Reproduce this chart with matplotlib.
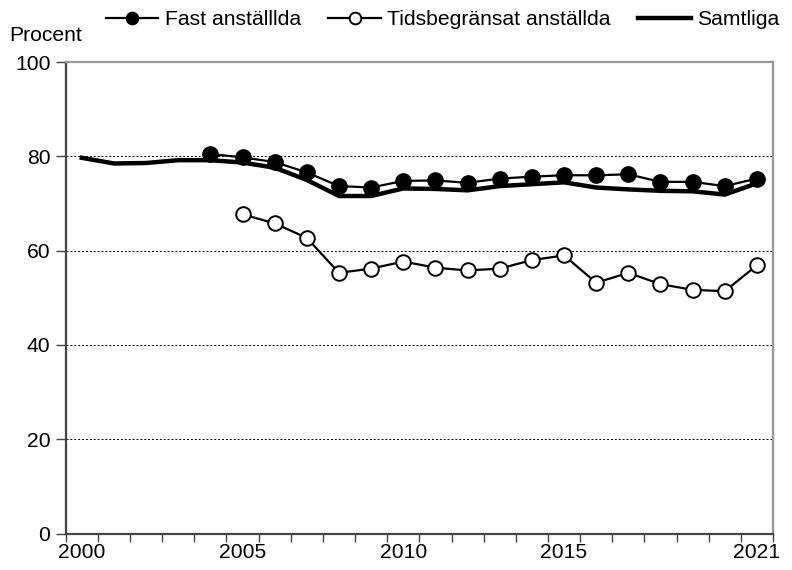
import matplotlib
matplotlib.use("Agg")
import matplotlib.pyplot as plt
from matplotlib.ticker import FixedLocator, NullFormatter

plt.rcParams['font.family'] = ['Liberation Sans', 'DejaVu Sans']

# Years and series (percent)
years = list(range(2000, 2022))
samtliga = [79.7, 78.5, 78.6, 79.2, 79.2, 78.7, 77.6, 75.0, 71.6, 71.6,
            73.2, 73.1, 72.8, 73.7, 74.1, 74.5, 73.4, 73.0, 72.7, 72.6,
            71.9, 74.3]
fast_years = list(range(2004, 2022))
fast = [80.5, 79.8, 78.8, 76.6, 73.7, 73.4, 74.8, 74.9, 74.4, 75.3,
        75.7, 76.0, 76.0, 76.2, 74.6, 74.6, 73.7, 75.3]
tids_years = list(range(2005, 2022))
tids = [67.7, 65.8, 62.7, 55.3, 56.2, 57.7, 56.4, 55.8, 56.2, 58.0,
        59.0, 53.2, 55.3, 52.9, 51.7, 51.4, 56.9]
label_years = [2000, 2005, 2010, 2015, 2021]

FS = 15.2

fig = plt.figure(figsize=(7.92, 5.70), dpi=100)
ax = fig.add_axes([0.083, 0.064, 0.893, 0.827])

# categories are centred between tick marks
def pos(ys):
    return [y - years[0] + 0.5 for y in ys]

ax.plot(pos(years), samtliga, color='black', lw=3.2, solid_joinstyle='miter',
        label='Samtliga', zorder=3)
ax.plot(pos(fast_years), fast, color='black', lw=1.6, marker='o', ms=11,
        mfc='black', mec='black', label='Fast anställlda', zorder=4)
ax.plot(pos(tids_years), tids, color='black', lw=1.6, marker='o', ms=10.5,
        mfc='white', mec='black', mew=1.4, label='Tidsbegränsat anställda', zorder=4)

ax.set_xlim(0, len(years))
ax.set_ylim(0, 100)
ax.set_yticks([0, 20, 40, 60, 80, 100])
ax.xaxis.set_major_locator(FixedLocator(range(len(years) + 1)))
ax.xaxis.set_major_formatter(NullFormatter())
ax.xaxis.set_minor_locator(FixedLocator(pos(label_years)))
ax.set_xticklabels([str(y) for y in label_years], minor=True)
ax.tick_params(axis='x', which='minor', length=0, pad=7, labelsize=FS)
ax.tick_params(axis='x', which='major', length=6, width=1, color='#444444')
ax.tick_params(axis='y', length=7, width=1, color='#444444', labelsize=FS, pad=4)

for v in [20, 40, 60, 80]:
    ax.axhline(v, color='black', lw=0.7, ls=(0, (2, 2)), zorder=1)

for s in ['left', 'bottom']:
    ax.spines[s].set_color('#444444')
    ax.spines[s].set_linewidth(1.6)
for s in ['right', 'top']:
    ax.spines[s].set_color('#999999')
    ax.spines[s].set_linewidth(1.6)

fig.text(0.012, 0.938, 'Procent', fontsize=FS, va='center', ha='left')

h, l = ax.get_legend_handles_labels()
order = [1, 2, 0]
fig.legend([h[i] for i in order], [l[i] for i in order], ncol=3, frameon=False,
           loc='center', bbox_to_anchor=(0.559, 0.965), fontsize=FS,
           handlelength=2.5, handletextpad=0.3, columnspacing=1.3,
           borderaxespad=0, markerscale=0.8)

fig.savefig('out.png', dpi=100)
